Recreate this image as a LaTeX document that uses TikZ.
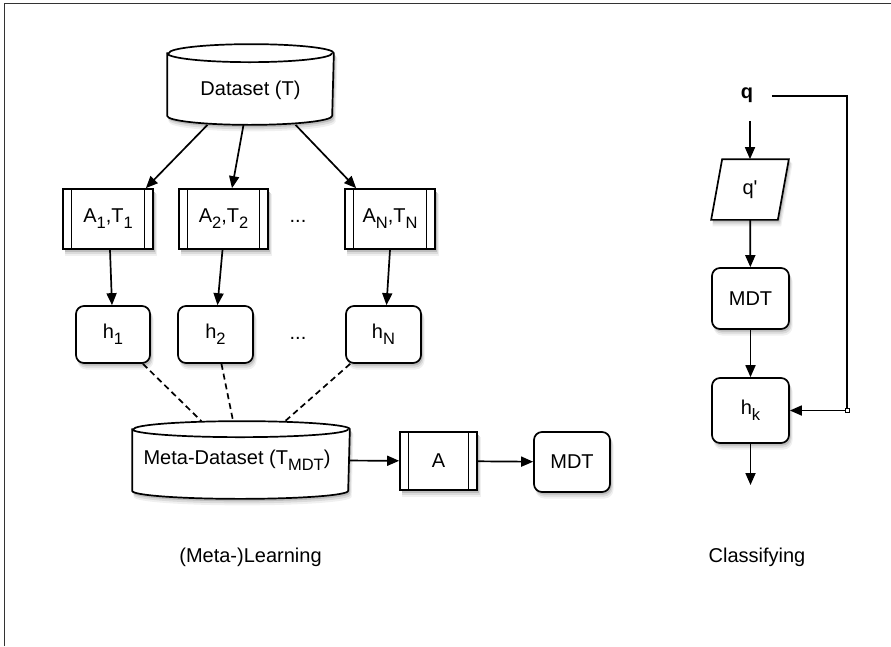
\documentclass[tikz,border=0pt]{standalone}
\usepackage{fontspec}
\setmainfont{Liberation Sans}
\usetikzlibrary{arrows.meta,shadows,calc}

% lowered index, as in A_1 or h_N
\newcommand\lo[1]{\raisebox{-6pt}{\fontsize{16.5}{16.5}\selectfont #1}}

% cylinder outline around a node: #1 node name, #2 x radius, #3 y radius
\newcommand\cylpath[3]{%
  \filldraw[cylfill]
    ($(#1.north west)+(0,#3)$) -- ($(#1.south west)+(0,-#3)$)
    arc[start angle=180,end angle=360,x radius=#2pt,y radius=#3pt]
    -- ($(#1.north east)+(0,#3)$)
    arc[start angle=0,end angle=180,x radius=#2pt,y radius=#3pt]
    -- cycle;
  \draw ($(#1.north west)+(0,#3)$)
    arc[start angle=180,end angle=360,x radius=#2pt,y radius=#3pt];}

\begin{document}
\begin{tikzpicture}[x=1pt,y=-1pt,line width=1.7pt,
  font=\fontsize{20}{24}\selectfont,
  % soft shadow built from a few stacked grey copies, lightest first
  softshadow/.style={
    general shadow={fill=black!6,draw=black!6,line width=2pt,shadow xshift=2.5pt,shadow yshift=-5.5pt},
    general shadow={fill=black!14,draw=black!14,line width=1pt,shadow xshift=2pt,shadow yshift=-4pt},
    general shadow={fill=black!26,draw=none,shadow xshift=1.5pt,shadow yshift=-2.5pt}},
  cylfill/.style={fill=white,draw=black,softshadow},
  cyl/.style={inner sep=0pt},
  rbox/.style={draw,fill=white,rounded corners=8pt,inner sep=0pt,softshadow},
  proc/.style={draw,fill=white,inner sep=0pt,softshadow,
    path picture={\draw[line width=1.7pt]
      ([xshift=8.5pt]path picture bounding box.north west) --
      ([xshift=8.5pt]path picture bounding box.south west)
      ([xshift=-8.5pt]path picture bounding box.north east) --
      ([xshift=-8.5pt]path picture bounding box.south east);}},
  arr/.style={-{Triangle[length=12pt,width=10pt]}},
  dsh/.style={dash pattern=on 6pt off 4pt},
  gap/.style={inner sep=0pt}]

\useasboundingbox (0,0) rectangle (891,646);

% frame
\draw[line width=1pt,black!80] (4,646) -- (4,3) -- (891,3);

% ----- learning side -----
\node[cyl,minimum width=165pt,minimum height=79pt] (ds) at (250.5,84.5) {};
\cylpath{ds}{82.5}{9}
\node[gap] (dstext) at ([yshift=-5.5pt]ds.center) {Dataset (T)};

\node[proc,minimum width=90pt,minimum height=60pt] (a1) at (108,219) {A\lo{1},T\lo{1}};
\node[proc,minimum width=89pt,minimum height=60pt] (a2) at (223.5,219) {A\lo{2},T\lo{2}};
\node[proc,minimum width=90pt,minimum height=60pt] (aN) at (390,219) {A\lo{N},T\lo{N}};
\node[gap] (d1) at (298,221) {...};

\node[rbox,minimum width=74pt,minimum height=57pt] (h1) at (113,334.5) {h\lo{1}};
\node[rbox,minimum width=75pt,minimum height=57pt] (h2) at (215.5,334.5) {h\lo{2}};
\node[rbox,minimum width=75pt,minimum height=57pt] (hN) at (383.5,334.5) {h\lo{N}};
\node[gap] (d2) at (298,338) {...};

\node[cyl,minimum width=216pt,minimum height=76pt] (meta) at (241,460) {};
\cylpath{meta}{108}{8}
\node[gap] (metatext) at ([xshift=-4pt]meta.center) {Meta-Dataset (T\lo{MDT})};

\node[proc,minimum width=77pt,minimum height=58pt] (A) at (438.5,461) {A};
\node[rbox,minimum width=76pt,minimum height=60pt] (mdt) at (572,462) {MDT};

\draw[arr] ([xshift=-43pt]ds.south) -- ([xshift=-8pt]a1.north east);
\draw[arr] ([xshift=-7pt]ds.south) -- ([xshift=8.5pt]a2.north);
\draw[arr] ([xshift=45pt]ds.south) -- ([xshift=12pt]aN.north west);

\draw[arr] ([xshift=2pt]a1.south) -- ([xshift=-1pt]h1.north);
\draw[arr] ([xshift=-1pt]a2.south) -- ([xshift=2pt]h2.north);
\draw[arr] (aN.south) -- ([xshift=3pt]hN.north);

\draw[dsh] (h1) -- (meta);
\draw[dsh] (h2) -- (meta);
\draw[dsh] (hN) -- (meta);

\draw[arr] (meta) -- (A);
\draw[arr] (A) -- (mdt);

\node (learn) at (250.5,557) {(Meta-)Learning};

% ----- classifying side -----
\node[gap,minimum width=48pt,minimum height=50pt] (q) at (747,95) {\textbf{q}};

\node[gap,minimum width=65pt,minimum height=59pt] (qp) at (750,189.5) {};
\filldraw[fill=white,softshadow]
  ([xshift=5.5pt]qp.north west) -- ([xshift=5.5pt]qp.north east)
  -- ([xshift=-5.5pt]qp.south east) -- ([xshift=-5.5pt]qp.south west) -- cycle;
\node[gap] (qptext) at (qp.center) {q\textquotesingle};

\node[rbox,minimum width=77pt,minimum height=61pt] (cmdt) at (750.5,298.5) {MDT};
\node[rbox,minimum width=77pt,minimum height=65pt] (hk) at (750.5,410.5) {h\lo{k}};

\coordinate (fb) at (847,410.5);
\coordinate (out) at (750.5,485);

\draw[arr] ([xshift=3pt]q.south) -- (qp.north);
\draw[arr] (qp) -- (cmdt);
\draw[arr] (cmdt) -- (hk);
\draw[arr] (hk) -- (out);
\draw[arr] ([yshift=-1pt]q.east) -| (fb) -- (hk);
\node[draw,fill=white,line width=0.8pt,minimum size=4pt,inner sep=0pt] (fbmark) at (fb) {};

\node (classify) at (757,557) {Classifying};
\end{tikzpicture}
\end{document}
